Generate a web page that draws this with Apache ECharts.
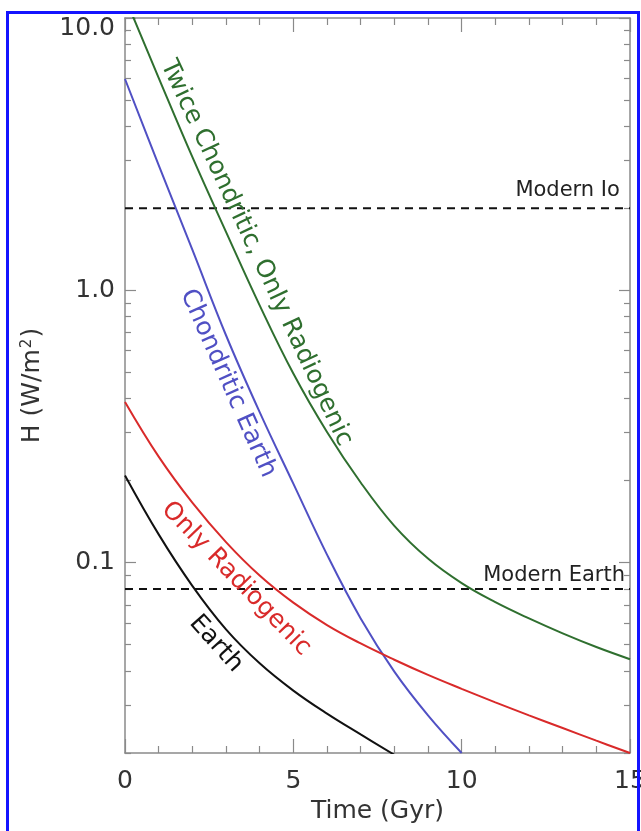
<!DOCTYPE html>
<html><head><meta charset="utf-8">
<script src="https://cdn.jsdelivr.net/npm/echarts@6/dist/echarts.min.js"></script>
<style>html,body{margin:0;padding:0;background:#fff}#c{width:641px;height:831px}</style>
</head><body><div id="c"></div>
<script>
// ---- data ----
const times = [0,1,2,3,4,5,6,7,8,9,10,11,12,13,14,15];
const twiceChondritic = [11.9,6.03,3.09,1.64,0.881,0.495,0.302,0.197,0.1365,0.1035,0.0841,0.0716,0.0624,0.055,0.049,0.0442];
const chondriticEarth = [5.97,2.88,1.41,0.684,0.357,0.195,0.107,0.0624,0.0398,0.0275,0.020];
const onlyRadiogenic = [0.389,0.245,0.166,0.119,0.0897,0.0713,0.059,0.0505,0.044,0.0387,0.0344,0.0307,0.0275,0.0247,0.0222,0.020];
const earth = [0.209,0.127,0.0822,0.0569,0.0427,0.0339,0.0279,0.0234,0.0197];
const referenceLevels = [2.0, 0.08];
const referenceNames = ['Modern Io', 'Modern Earth'];
const yMajorTicks = [0.1, 1, 10];
const yMinorTicks = [0.02,0.03,0.04,0.05,0.06,0.07,0.08,0.09,0.2,0.3,0.4,0.5,0.6,0.7,0.8,0.9,2,3,4,5,6,7,8,9];
const curveNames = ['Twice Chondritic, Only Radiogenic','Chondritic Earth','Only Radiogenic','Earth'];

// ---- styling ----
const FONT = 'DejaVu Sans';
const AXIS = '#8a8a8a';
const TXT = '#333';
const colors = ['#2f6f2f','#5050c4','#d92a2a','#111111'];

const chart = echarts.init(document.getElementById('c'), null, {renderer:'canvas'});
const pair = (arr) => arr.map((v,i)=>[times[i], v]);

function yAxisCfg(pos, ticks, len, showLine, showLabel){
  return {
    type:'log', logBase:10, min:0.02, max:10, position:pos,
    axisLine:{show:showLine, lineStyle:{color:AXIS, width:1.5}},
    axisTick:{show:true, inside:true, length:len, customValues:ticks, lineStyle:{color:AXIS, width:1.2}},
    axisLabel:{show:showLabel, customValues:yMajorTicks, margin:10, fontFamily:FONT, fontSize:25, color:TXT,
      formatter:(v)=>{ const s = v>=1 ? (+v).toFixed(1) : String(+(+v).toPrecision(1)); return v>=9.99 ? '{t|'+s+'}' : s; },
      rich:{t:{fontFamily:FONT, fontSize:25, color:TXT, padding:[20,0,0,0]}}},
    splitLine:{show:false}, minorTick:{show:false}, minorSplitLine:{show:false},
    name: showLabel ? 'H (W/m{sup|2})' : '', nameLocation:'middle', nameGap:80, nameRotate:90,
    nameTextStyle:{fontFamily:FONT, fontSize:25, color:TXT,
      rich:{sup:{fontFamily:FONT, fontSize:15, color:TXT, verticalAlign:'top', padding:[0,1,0,1]}}}
  };
}
function xAxisCfg(pos, showLabel){
  return {
    type:'value', min:0, max:15, interval:5, position:pos,
    axisLine:{show:true, onZero:false, lineStyle:{color:AXIS, width:1.5}},
    axisTick:{show:true, inside:true, length:14, lineStyle:{color:AXIS, width:1.2}},
    minorTick:{show:true, splitNumber:5, length:7, lineStyle:{color:AXIS, width:1.2}},
    axisLabel:{show:showLabel, margin:16, fontFamily:FONT, fontSize:25, color:TXT},
    splitLine:{show:false},
    name: showLabel ? 'Time (Gyr)' : '', nameLocation:'middle', nameGap:46,
    nameTextStyle:{fontFamily:FONT, fontSize:25, color:TXT}
  };
}

const curves = [twiceChondritic, chondriticEarth, onlyRadiogenic, earth];
const series = curves.map((arr,i)=>({
  type:'line', name:curveNames[i], data:pair(arr), showSymbol:false, smooth:0.4,
  clip:true, xAxisIndex:0, yAxisIndex:0, lineStyle:{color:colors[i], width:2}, z:3
}));
referenceLevels.forEach((lv,i)=>{
  series.push({type:'line', name:referenceNames[i], data:[[times[0],lv],[times[times.length-1],lv]], showSymbol:false,
    xAxisIndex:0, yAxisIndex:0, lineStyle:{color:'#111', width:2, type:[8,6]}, z:2});
});

chart.setOption({
  animation:false,
  backgroundColor:'#fff',
  grid:{left:125, right:11, top:18, bottom:78, containLabel:false, outerBoundsMode:'none'},
  xAxis:[xAxisCfg('bottom', true), xAxisCfg('top', false)],
  yAxis:[yAxisCfg('left', yMajorTicks, 11, true, true), yAxisCfg('left', yMinorTicks, 6, false, false),
         yAxisCfg('right', yMajorTicks, 11, true, false), yAxisCfg('right', yMinorTicks, 6, false, false)],
  series
});

// annotation anchors (data coords), rotation in degrees (clockwise)
const annots = [
  {text:curveNames[0], at:[3.9,1.37], rot:65, color:colors[0], align:'center', size:25},
  {text:curveNames[1], at:[3.06,0.455], rot:66, color:colors[1], align:'center', size:25},
  {text:curveNames[2], at:[3.30,0.0873], rot:46, color:colors[2], align:'center', size:25},
  {text:curveNames[3], at:[2.70,0.0504], rot:48, color:colors[3], align:'center', size:25},
  {text:referenceNames[0], at:[14.7,2.33], rot:0, color:'#222', align:'right', size:21},
  {text:referenceNames[1], at:[14.85,0.0895], rot:0, color:'#222', align:'right', size:21}
];
const graphics = annots.map(a=>{
  const p = chart.convertToPixel({xAxisIndex:0, yAxisIndex:0}, a.at);
  return {type:'text', x:p[0], y:p[1], rotation:-a.rot*Math.PI/180, z:10,
    style:{text:a.text, fill:a.color, font:a.size+'px "'+FONT+'"', align:a.align, verticalAlign:'middle'}};
});
graphics.push({type:'rect', shape:{x:7.5, y:12.5, width:631, height:900}, style:{fill:null, stroke:'#1414ff', lineWidth:3}, z:20, silent:true});
chart.setOption({graphic:graphics});
</script></body></html>
